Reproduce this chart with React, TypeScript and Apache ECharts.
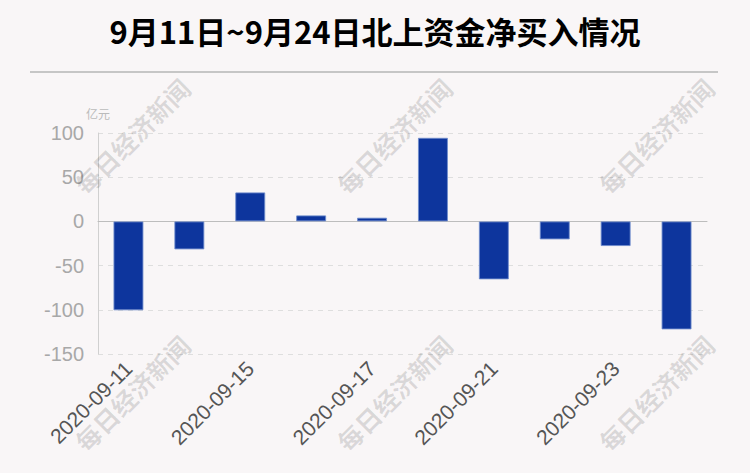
import React, { useEffect, useRef } from "react";
import * as echarts from "echarts";

const titleText = "9月11日~9月24日北上资金净买入情况";
const unitName = "亿元";
const categories = [
  "2020-09-11",
  "2020-09-14",
  "2020-09-15",
  "2020-09-16",
  "2020-09-17",
  "2020-09-18",
  "2020-09-21",
  "2020-09-22",
  "2020-09-23",
  "2020-09-24",
];
const netBuy = [-100.6, -31.7, 32.8, 6.8, 4.2, 94.6, -65.6, -20.4, -27.9, -122.2];
const yMin = -150;
const yMax = 100;
const yStep = 50;
const watermarkText = "每日经济新闻";
const watermarkCols = [132, 394, 656];
const watermarkRows = [136, 393];

export default function App() {
  const ref = useRef<HTMLDivElement>(null);

  useEffect(() => {
    if (!ref.current) return;
    const chart = echarts.init(ref.current, undefined, { renderer: "svg" });

    const marks: any[] = [];
    watermarkRows.forEach((y) => {
      watermarkCols.forEach((x) => {
        marks.push({
          type: "text",
          x,
          y,
          rotation: Math.PI / 4,
          z: 100,
          silent: true,
          style: {
            text: watermarkText,
            align: "center",
            verticalAlign: "middle",
            fontSize: 25,
            fontWeight: "bold",
            fontFamily: "Noto Sans CJK SC",
            fill: "rgba(0,0,0,0.12)",
          },
        });
      });
    });

    chart.setOption({
      animation: false,
      backgroundColor: "#f9f6f7",
      title: {
        text: titleText,
        left: "center",
        top: 10,
        textStyle: {
          fontSize: 31,
          fontWeight: "bold",
          color: "#000",
          fontFamily: "Noto Sans CJK SC",
        },
      },
      graphic: [
        {
          type: "line",
          shape: { x1: 30, y1: 72, x2: 718, y2: 72 },
          style: { stroke: "#c6c6c6", lineWidth: 2 },
        },
        ...marks,
      ],
      grid: { left: 98, right: 43, top: 133, bottom: 119, containLabel: false },
      xAxis: {
        type: "category",
        data: categories,
        axisTick: { show: false },
        axisLine: { lineStyle: { color: "#bdbdbd", width: 1 } },
        axisLabel: {
          interval: 1,
          rotate: 45,
          margin: 11,
          fontSize: 21,
          color: "#555",
          fontFamily: "Liberation Sans",
        },
      },
      yAxis: {
        type: "value",
        min: yMin,
        max: yMax,
        interval: yStep,
        name: unitName,
        nameLocation: "end",
        nameGap: 14,
        nameTextStyle: { color: "#bbb", fontSize: 12, align: "center", fontFamily: "Noto Sans CJK SC" },
        axisLine: { show: true, lineStyle: { color: "#d0d0d0" } },
        axisTick: { show: false },
        axisLabel: {
          fontSize: 20,
          color: "#a8a8a8",
          margin: 14,
          fontFamily: "Liberation Sans",
        },
        splitLine: { lineStyle: { color: "#dedede", type: [5, 5] } },
      },
      series: [
        {
          type: "bar",
          data: netBuy,
          barWidth: 30,
          itemStyle: {
            color: "#0d359d",
            borderColor: "rgba(110,140,205,0.85)",
            borderWidth: 1,
          },
        },
      ],
    });

    return () => chart.dispose();
  }, []);

  return (
    <div
      ref={ref}
      style={{ position: "fixed", left: 0, top: 0, width: 750, height: 473 }}
    />
  );
}
